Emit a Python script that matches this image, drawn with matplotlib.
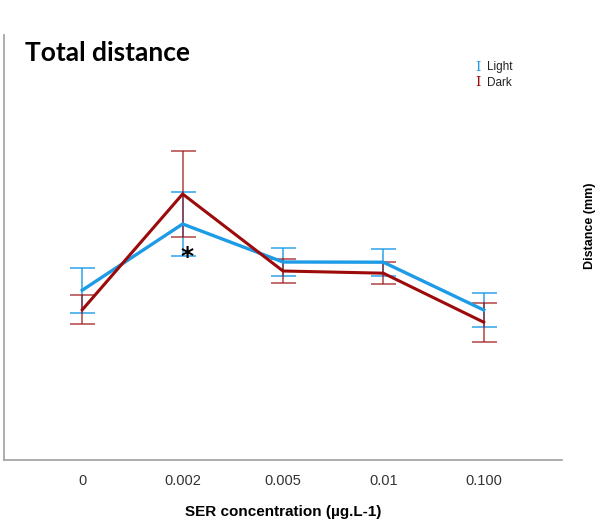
import matplotlib.pyplot as plt

concentrations = ["0", "0.002", "0.005", "0.01", "0.100"]

light_mean = [1698, 2360, 1980, 1978, 1500]
light_err = [225, 317, 137, 137, 173]

dark_mean = [1502, 2660, 1890, 1868, 1378]
dark_err = [145, 433, 117, 108, 195]

blue = "#1e9be6"
red = "#9c0a0a"

fig = plt.figure(figsize=(6.06, 5.19), dpi=100)
ax = fig.add_axes([4 / 606, 1 - 460 / 519, 558 / 606, 425 / 519])

x = list(range(len(concentrations)))

ax.errorbar(x, light_mean, yerr=light_err, fmt="none", ecolor=blue,
            elinewidth=1.2, capsize=9, capthick=1.2, alpha=0.85, zorder=2)
ax.errorbar(x, dark_mean, yerr=dark_err, fmt="none", ecolor=red,
            elinewidth=1.2, capsize=9, capthick=1.2, alpha=0.7, zorder=2)
ax.plot(x, light_mean, color=blue, lw=2.4, zorder=3)
ax.plot(x, dark_mean, color=red, lw=2.2, zorder=4)

# significance marker at 0.002
ax.text(1.04, 2030, "*", ha="center", va="center", fontsize=18,
        fontweight="bold", color="black")

ax.set_xlim(-0.78, 4.78)
ax.set_ylim(0, 4250)

ax.set_xticks(x)
ax.set_xticklabels(concentrations, fontsize=10.5, color="#333333",
                   family="Liberation Sans")
ax.tick_params(axis="x", length=0, pad=10)
ax.set_yticks([])

for side in ["top", "right"]:
    ax.spines[side].set_visible(False)
for side in ["left", "bottom"]:
    ax.spines[side].set_color("#a0a0a0")
    ax.spines[side].set_linewidth(1.2)

ax.set_xlabel("SER concentration (µg.L-1)", fontsize=11, fontweight="bold",
              family="Liberation Sans", labelpad=12)

fig.text(590 / 606, 1 - 226 / 519, "Distance (mm)", rotation=90, ha="center",
         va="center", fontsize=9, fontweight="bold", family="Liberation Sans")

fig.text(25 / 606, 1 - 53 / 519, "Total distance", ha="left", va="center",
         fontsize=19, fontweight="bold", family="Lato")

# legend entries drawn as error-bar glyphs
fig.text(478 / 606, 1 - 67 / 519, "I", color=blue, ha="center", va="center",
         fontsize=9.5, family="DejaVu Serif")
fig.text(478 / 606, 1 - 83 / 519, "I", color=red, ha="center", va="center",
         fontsize=9.5, family="DejaVu Serif")
fig.text(487 / 606, 1 - 67 / 519, "Light", ha="left", va="center",
         fontsize=8.5, family="Liberation Sans", color="#222222")
fig.text(487 / 606, 1 - 83 / 519, "Dark", ha="left", va="center",
         fontsize=8.5, family="Liberation Sans", color="#222222")

fig.savefig("out.png", dpi=100)
